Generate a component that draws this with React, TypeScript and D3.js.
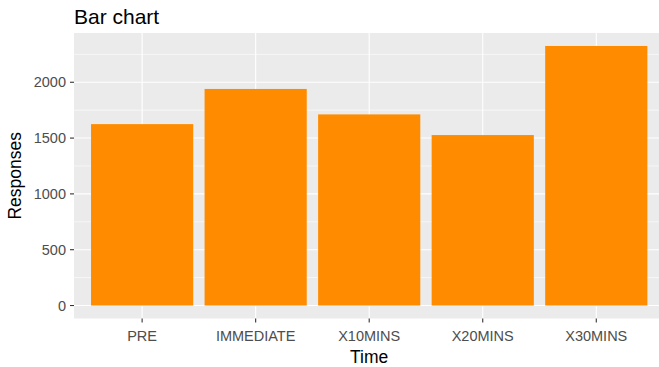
import React from "react";
import * as d3 from "d3";

const categories = ["PRE", "IMMEDIATE", "X10MINS", "X20MINS", "X30MINS"];
const responses = [1625, 1940, 1712, 1527, 2325];
const yTicks = [0, 500, 1000, 1500, 2000];
const yMinor = [250, 750, 1250, 1750, 2250];

const W = 659;
const H = 367;
const panel = { left: 74, right: 664.4, top: 33, bottom: 318.5 };
const FONT = "'Liberation Sans', Arial, sans-serif";

export default function App() {
  const maxV = d3.max(responses) as number;
  const y = d3
    .scaleLinear()
    .domain([-0.05 * maxV, 1.05 * maxV])
    .range([panel.bottom, panel.top]);
  const x = d3
    .scaleBand<string>()
    .domain(categories)
    .range([panel.left, panel.right])
    .paddingInner(0.1)
    .paddingOuter(0.15)
    .align(0.5);
  const cx = (c: string) => (x(c) as number) + x.bandwidth() / 2;

  return (
    <svg
      width={W}
      height={H}
      style={{ position: "absolute", left: 0, top: 0, background: "#fff" }}
    >
      <rect
        x={panel.left}
        y={panel.top}
        width={panel.right - panel.left}
        height={panel.bottom - panel.top}
        fill="#EBEBEB"
      />
      {yMinor.map((v) => (
        <line
          key={"mn" + v}
          x1={panel.left}
          x2={panel.right}
          y1={y(v)}
          y2={y(v)}
          stroke="#fff"
          strokeWidth={0.6}
        />
      ))}
      {yTicks.map((v) => (
        <line
          key={"mj" + v}
          x1={panel.left}
          x2={panel.right}
          y1={y(v)}
          y2={y(v)}
          stroke="#fff"
          strokeWidth={1.1}
        />
      ))}
      {categories.map((c) => (
        <line
          key={"vg" + c}
          x1={cx(c)}
          x2={cx(c)}
          y1={panel.top}
          y2={panel.bottom}
          stroke="#fff"
          strokeWidth={1.1}
        />
      ))}
      {categories.map((c, i) => (
        <rect
          key={"b" + c}
          x={x(c)}
          y={y(responses[i])}
          width={x.bandwidth()}
          height={y(0) - y(responses[i])}
          fill="#FF8C00"
        />
      ))}
      {yTicks.map((v) => (
        <g key={"yt" + v}>
          <line
            x1={panel.left - 4}
            x2={panel.left}
            y1={y(v)}
            y2={y(v)}
            stroke="#333"
            strokeWidth={1.1}
          />
          <text
            x={panel.left - 8}
            y={y(v)}
            dy="0.35em"
            textAnchor="end"
            fontFamily={FONT}
            fontSize={14.5}
            fill="#4D4D4D"
          >
            {v}
          </text>
        </g>
      ))}
      {categories.map((c) => (
        <g key={"xt" + c}>
          <line
            x1={cx(c)}
            x2={cx(c)}
            y1={panel.bottom}
            y2={panel.bottom + 4}
            stroke="#333"
            strokeWidth={1.1}
          />
          <text
            x={cx(c)}
            y={340.5}
            textAnchor="middle"
            fontFamily={FONT}
            fontSize={14.5}
            fill="#4D4D4D"
          >
            {c}
          </text>
        </g>
      ))}
      <text
        x={(panel.left + panel.right) / 2}
        y={363}
        textAnchor="middle"
        fontFamily={FONT}
        fontSize={17.5}
        fill="#000"
      >
        Time
      </text>
      <text
        transform={`translate(21, ${(panel.top + panel.bottom) / 2}) rotate(-90)`}
        textAnchor="middle"
        fontFamily={FONT}
        fontSize={17.5}
        fill="#000"
      >
        Responses
      </text>
      <text x={74} y={24} fontFamily={FONT} fontSize={21} fill="#000">
        Bar chart
      </text>
    </svg>
  );
}
